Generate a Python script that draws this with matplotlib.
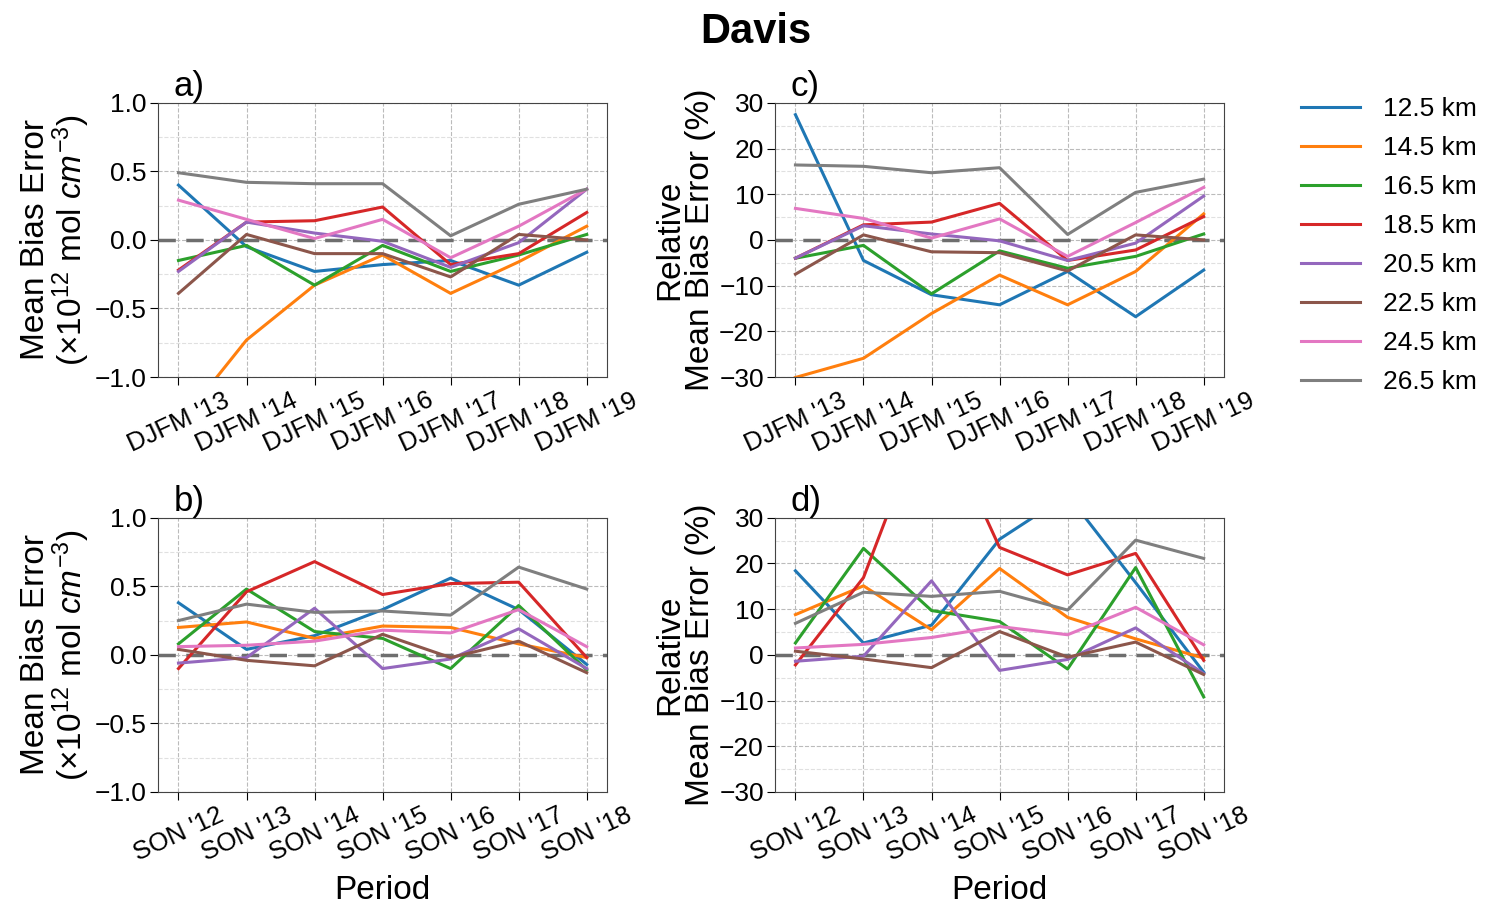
import numpy as np
import matplotlib
matplotlib.use('Agg')
import matplotlib.pyplot as plt
from matplotlib.ticker import MultipleLocator

plt.rcParams['font.family'] = ['Liberation Sans', 'DejaVu Sans']
plt.rcParams['mathtext.fontset'] = 'custom'
plt.rcParams['mathtext.rm'] = 'Liberation Sans'
plt.rcParams['mathtext.it'] = 'Liberation Sans:italic'

altitudes = ['12.5 km', '14.5 km', '16.5 km', '18.5 km', '20.5 km', '22.5 km', '24.5 km', '26.5 km']
colors = ['#1f77b4', '#ff7f0e', '#2ca02c', '#d62728', '#9467bd', '#8c564b', '#e377c2', '#7f7f7f']

djfm_labels = ["DJFM '13", "DJFM '14", "DJFM '15", "DJFM '16", "DJFM '17", "DJFM '18", "DJFM '19"]
son_labels = ["SON '12", "SON '13", "SON '14", "SON '15", "SON '16", "SON '17", "SON '18"]

# a) DJFM mean bias error (x1e12 mol cm-3)
mbe_djfm = [
    [0.40, -0.05, -0.23, -0.18, -0.15, -0.33, -0.09],
    [-1.35, -0.73, -0.33, -0.11, -0.39, -0.16, 0.10],
    [-0.15, -0.04, -0.33, -0.04, -0.23, -0.11, 0.04],
    [-0.22, 0.13, 0.14, 0.24, -0.18, -0.10, 0.20],
    [-0.23, 0.13, 0.05, -0.01, -0.20, -0.02, 0.37],
    [-0.39, 0.04, -0.10, -0.10, -0.27, 0.04, 0.00],
    [0.29, 0.15, 0.01, 0.15, -0.13, 0.10, 0.37],
    [0.49, 0.42, 0.41, 0.41, 0.03, 0.26, 0.37],
]

# c) DJFM relative mean bias error (%)
rmbe_djfm = [
    [27.4, -4.5, -12.0, -14.2, -6.9, -16.8, -6.6],
    [-30.1, -25.9, -16.1, -7.7, -14.2, -6.9, 5.7],
    [-4.0, -1.2, -11.8, -2.4, -6.2, -3.6, 1.3],
    [-4.0, 3.3, 3.9, 8.0, -4.5, -2.2, 5.1],
    [-4.0, 3.1, 1.3, -0.2, -4.5, -0.7, 9.6],
    [-7.5, 1.1, -2.6, -2.8, -6.8, 1.1, 0.0],
    [6.9, 4.7, 0.4, 4.6, -3.6, 3.8, 11.5],
    [16.4, 16.1, 14.7, 15.8, 1.2, 10.4, 13.3],
]

# b) SON mean bias error (x1e12 mol cm-3)
mbe_son = [
    [0.38, 0.04, 0.14, 0.33, 0.56, 0.33, -0.07],
    [0.20, 0.24, 0.12, 0.21, 0.20, 0.08, -0.02],
    [0.08, 0.48, 0.17, 0.12, -0.10, 0.36, -0.11],
    [-0.10, 0.46, 0.68, 0.44, 0.52, 0.53, -0.02],
    [-0.06, -0.02, 0.34, -0.10, -0.03, 0.19, -0.10],
    [0.04, -0.04, -0.08, 0.15, -0.02, 0.10, -0.13],
    [0.06, 0.07, 0.10, 0.18, 0.16, 0.33, 0.06],
    [0.25, 0.37, 0.31, 0.32, 0.29, 0.64, 0.48],
]

# d) SON relative mean bias error (%)
rmbe_son = [
    [18.4, 2.6, 6.5, 25.3, 35.0, 15.8, -3.8],
    [8.8, 15.1, 5.5, 18.9, 8.2, 3.5, -0.7],
    [2.6, 23.3, 9.7, 7.3, -3.1, 19.1, -9.2],
    [-2.2, 16.9, 56.0, 23.5, 17.5, 22.2, -1.2],
    [-1.4, -0.3, 16.2, -3.4, -1.0, 5.9, -4.1],
    [0.8, -0.9, -2.8, 5.1, -0.5, 2.8, -4.3],
    [1.5, 2.3, 3.8, 6.2, 4.4, 10.4, 2.2],
    [6.9, 13.7, 12.8, 13.9, 9.8, 25.1, 21.1],
]

fig = plt.figure(figsize=(14.87, 9.05), dpi=100)
w, h = 0.302, 0.303
ax_a = fig.add_axes([0.1063, 0.5834, w, h])
ax_c = fig.add_axes([0.5212, 0.5834, w, h])
ax_b = fig.add_axes([0.1063, 0.1249, w, h])
ax_d = fig.add_axes([0.5212, 0.1249, w, h])

panels = [
    (ax_a, mbe_djfm, djfm_labels, 'a)', 'mbe'),
    (ax_c, rmbe_djfm, djfm_labels, 'c)', 'rmbe'),
    (ax_b, mbe_son, son_labels, 'b)', 'mbe'),
    (ax_d, rmbe_son, son_labels, 'd)', 'rmbe'),
]

for ax, data, labels, tag, kind in panels:
    x = np.arange(len(labels))
    for vals, c, lab in zip(data, colors, altitudes):
        ax.plot(x, vals, color=c, lw=2.2, label=lab)
    ax.axhline(0, color='#6e6e6e', lw=2.5, ls=(0, (5, 3)), zorder=1)
    ax.set_xticks(x)
    ax.set_xticklabels(labels, rotation=25, ha='center', fontsize=18.5)
    ax.tick_params(axis='y', labelsize=19)
    ax.tick_params(which='major', length=6, pad=2)
    ax.tick_params(which='minor', length=0)
    if kind == 'mbe':
        ax.set_ylim(-1, 1)
        ax.yaxis.set_major_locator(MultipleLocator(0.5))
        ax.yaxis.set_minor_locator(MultipleLocator(0.25))
        ax.set_ylabel('Mean Bias Error\n($\\times 10^{12}$ mol $cm^{-3}$)', fontsize=24, linespacing=1.0, labelpad=2)
    else:
        ax.set_ylim(-30, 30)
        ax.yaxis.set_major_locator(MultipleLocator(10))
        ax.yaxis.set_minor_locator(MultipleLocator(5))
        ax.set_ylabel('Relative\nMean Bias Error (%)', fontsize=24, linespacing=1.0, labelpad=2)
    ax.grid(which='major', ls='--', lw=0.8, color='#bbbbbb')
    ax.grid(which='minor', axis='y', ls='--', lw=0.8, color='#e0e0e0')
    ax.set_axisbelow(True)
    for s in ax.spines.values():
        s.set_color('#444444')
    ax.text(0.035, 1.0, tag, transform=ax.transAxes, fontsize=25, va='bottom', ha='left')

ax_b.set_xlabel('Period', fontsize=24, labelpad=7)
ax_d.set_xlabel('Period', fontsize=24, labelpad=7)

fig.suptitle('Davis', fontsize=30, fontweight='bold', x=0.508, y=0.987)

handles, labs = ax_a.get_legend_handles_labels()
fig.legend(handles, labs, loc='upper left', bbox_to_anchor=(0.859, 0.919), frameon=False,
           fontsize=19, handlelength=2.25, handletextpad=0.85, labelspacing=0.57)

fig.savefig('out.png', dpi=100)
